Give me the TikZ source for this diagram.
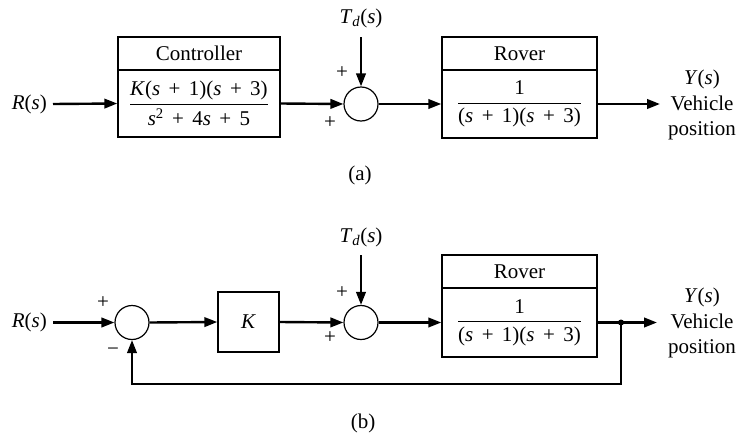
\documentclass[tikz,border=0pt]{standalone}
\usepackage{amsmath}
\usepackage{fontspec}
\setmainfont{Liberation Serif}
\usetikzlibrary{arrows.meta}
\newcommand\vi[1]{\textit{#1}}
\newcommand\pls{\hspace{0.4em}+\hspace{0.4em}}
\begin{document}
\begin{tikzpicture}[x=1pt,y=-1pt,
  every node/.style={font=\fontsize{21}{25.5}\selectfont, inner sep=0pt},
  blk/.style={draw, line width=1.4pt, inner sep=0pt},
  sig/.style={line width=2.4pt, -{Triangle[length=13pt,width=9.5pt]}},
  ln/.style={line width=2.4pt},
  sumnode/.style={draw, circle, line width=1.2pt, minimum size=34pt, inner sep=0pt},
]
\useasboundingbox (0,0) rectangle (736,434);

% ---------------- (a) ----------------
\node[anchor=east] (Ra) at (47,104) {\vi{R}(\vi{s})};
\node[blk, minimum width=162pt, minimum height=33pt] (ctrlh) at (199,53.5) {Controller};
\node[blk, minimum width=162pt, minimum height=67pt] (ctrlb) at (199,103.5)
  {$\genfrac{}{}{1.1pt}{0}{\mbox{\vi{K}(\vi{s}\pls 1)(\vi{s}\pls 3)}}{\mbox{\vi{s}\textsuperscript{2}\pls 4\vi{s}\pls 5}}$};
\node[sumnode] (suma) at (361,104) {};
\node (Tda) at (361,18) {\vi{T}\textsubscript{\vi{d}}(\vi{s})};
\coordinate (tdsa) at (361,37);
\node (pa1) at (342,73) {+};
\node (pa2) at (330,123) {+};
\node[blk, minimum width=155pt, minimum height=33pt] (rovah) at (519.5,53.5) {Rover};
\node[blk, minimum width=155pt, minimum height=68pt] (rovab) at (519.5,104)
  {$\genfrac{}{}{1.1pt}{0}{\mbox{1}}{\mbox{(\vi{s}\pls 1)(\vi{s}\pls 3)}}$};
\coordinate (outa) at (660,104);
\node[align=center] (Ya) at (702,105) {\vi{Y}(\vi{s})\\Vehicle\\position};
\node (capa) at (360,175) {(a)};

\draw[sig] ([xshift=6pt]Ra.east) -- (ctrlb.west);
\draw[sig] (ctrlb.east) -- (suma.west);
\draw[sig] (tdsa) -- (suma.north);
\draw[sig] (suma.east) -- (rovab.west);
\draw[sig] (rovab.east) -- (outa);

% ---------------- (b) ----------------
\node[anchor=east] (Rb) at (47,322.5) {\vi{R}(\vi{s})};
\node[sumnode] (sumb1) at (132,322.5) {};
\node (pb0) at (103,303) {+};
\node (mb0) at (113,352) {−};
\node[blk, minimum width=61pt, minimum height=60pt] (kb) at (248.5,322) {\vi{K}};
\node[sumnode] (sumb2) at (361,322.5) {};
\node (Tdb) at (361,237) {\vi{T}\textsubscript{\vi{d}}(\vi{s})};
\coordinate (tdsb) at (361,255);
\node (pb1) at (342,293) {+};
\node (pb2) at (330,338) {+};
\node[blk, minimum width=155pt, minimum height=33pt] (rovbh) at (519.5,271.5) {Rover};
\node[blk, minimum width=155pt, minimum height=69pt] (rovbb) at (519.5,322.5)
  {$\genfrac{}{}{1.1pt}{0}{\mbox{1}}{\mbox{(\vi{s}\pls 1)(\vi{s}\pls 3)}}$};
\node[circle, fill, minimum size=6pt, inner sep=0pt] (dotb) at (621,322.5) {};
\coordinate (outb) at (657,322.5);
\coordinate (fbr) at (621,384);
\node[align=center] (Yb) at (702,323) {\vi{Y}(\vi{s})\\Vehicle\\position};
\node (capb) at (363,423) {(b)};

\draw[sig] ([xshift=6pt]Rb.east) -- (sumb1.west);
\draw[sig] (sumb1.east) -- (kb.west);
\draw[sig] (kb.east) -- (sumb2.west);
\draw[sig] (tdsb) -- (sumb2.north);
\draw[sig] (sumb2.east) -- (rovbb.west);
\draw[ln] (rovbb.east) -- (dotb.center);
\draw[sig] (dotb.center) -- (outb);
\draw[sig] (dotb.center) -- (fbr) -| (sumb1.south);
\end{tikzpicture}
\end{document}
